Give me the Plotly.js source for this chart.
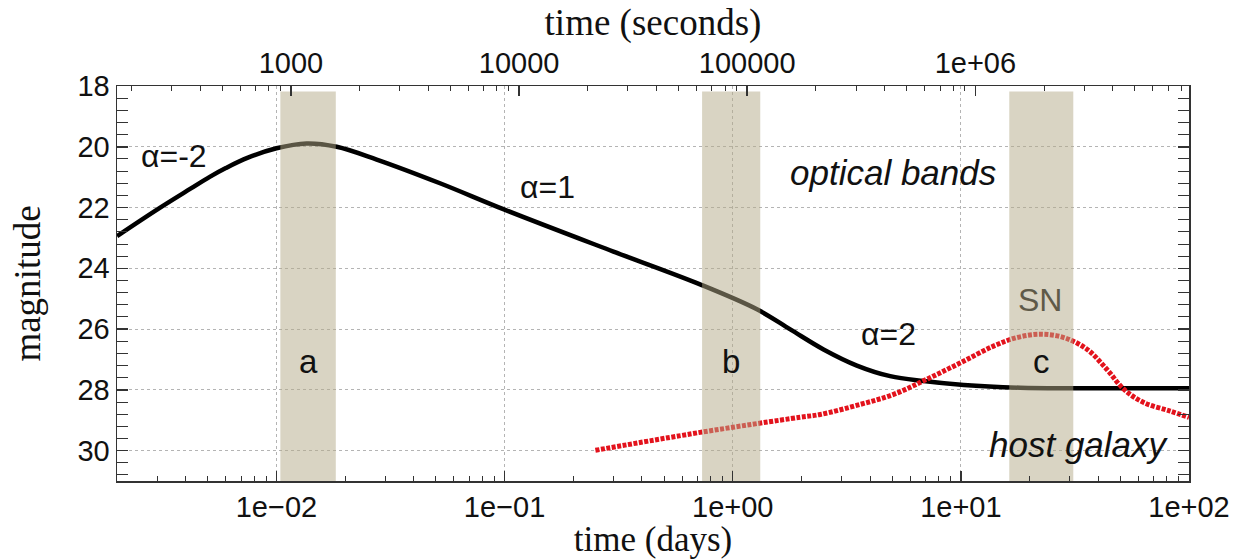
<!DOCTYPE html>
<html>
<head>
<meta charset="utf-8">
<script src="https://cdn.plot.ly/plotly-3.0.1.min.js"></script>
<style>
  html, body { margin: 0; padding: 0; background: #fff; }
  #chart { width: 1238px; height: 559px; }
</style>
</head>
<body>
<div id="chart"></div>
<script>
// Afterglow light curve (optical bands), time in days
const afterglowDays = [0.002, 0.00308, 0.0042, 0.0051, 0.006, 0.0075, 0.01, 0.01355, 0.01837, 0.0275, 0.0521, 0.1, 0.3, 0.719, 1.277, 1.787, 2.5, 3.5, 4.9, 6.86, 10.3, 18.2, 30, 100];
const afterglowMag  = [22.94, 22.01, 21.38, 20.99, 20.7, 20.36, 20.05, 19.89, 20.0, 20.42, 21.2, 22.07, 23.45, 24.53, 25.35, 26.01, 26.67, 27.2, 27.55, 27.71, 27.84, 27.93, 27.95, 27.95];

// Supernova + host galaxy contribution
const snDays = [0.25, 0.72, 1.98, 2.42, 3.62, 5.07, 7.1, 9.96, 13.9, 17.6, 22.3, 28.3, 35.8, 43.7, 51.8, 63.4, 82.8, 100];
const snMag  = [29.99, 29.4, 28.9, 28.81, 28.48, 28.15, 27.65, 27.11, 26.56, 26.28, 26.17, 26.28, 26.67, 27.33, 27.98, 28.42, 28.7, 28.91];

// Observation epochs (shaded windows)
const bandLabels = ['a', 'b', 'c'];
const bandStart  = [0.0104, 0.734, 16.3];
const bandEnd    = [0.0182, 1.32, 31.1];
const bandTop    = 18.18;
const bandBottom = 31;

// Axis ticks
const dayTicks     = [0.01, 0.1, 1, 10, 100];
const dayTickText  = ['1e\u221202', '1e\u221201', '1e+00', '1e+01', '1e+02'];
const secTicks     = [1000, 10000, 100000, 1000000];
const secTickText  = ['1000', '10000', '100000', '1e+06'];
const secondsPerDay = 86400;

const dayRange = [Math.log10(0.002), 2];
const secRange = dayRange.map(v => v + Math.log10(secondsPerDay));

const sans = 'Liberation Sans, Arial, Helvetica, sans-serif';
const serif = 'Liberation Serif, Times New Roman, serif';
const axisColor = '#333';

const traces = [
  {
    x: afterglowDays, y: afterglowMag, type: 'scatter', mode: 'lines',
    line: { color: '#000', width: 4.5, shape: 'spline', smoothing: 1 },
    hoverinfo: 'skip', showlegend: false
  },
  {
    x: snDays, y: snMag, type: 'scatter', mode: 'lines',
    line: { color: '#e3121c', width: 5, dash: '4px,1.5px', shape: 'spline', smoothing: 1 },
    hoverinfo: 'skip', showlegend: false
  },
  // top axis in seconds
  { x: [], y: [], xaxis: 'x2', yaxis: 'y', type: 'scatter', mode: 'lines', showlegend: false, hoverinfo: 'skip' }
];

// shaded epoch windows, drawn over the curves
bandLabels.forEach((lab, i) => {
  traces.push({
    x: [bandStart[i], bandEnd[i], bandEnd[i], bandStart[i], bandStart[i]],
    y: [bandTop, bandTop, bandBottom, bandBottom, bandTop],
    type: 'scatter', mode: 'lines', fill: 'toself',
    fillcolor: 'rgba(180,170,135,0.5)', line: { width: 0 },
    hoverinfo: 'skip', showlegend: false
  });
});

const tickFont = { family: sans, size: 29, color: '#111' };
const titleFont = { family: serif, size: 37, color: '#111' };
const gridColor = '#b4b4b4';

const layout = {
  width: 1238, height: 559,
  margin: { l: 117, r: 49, t: 86, b: 78 },
  paper_bgcolor: '#fff', plot_bgcolor: '#fff',
  showlegend: false,
  xaxis: {
    type: 'log', range: dayRange,
    tickmode: 'array', tickvals: dayTicks, ticktext: dayTickText,
    ticks: 'inside', ticklen: 10, tickwidth: 1.5, tickcolor: axisColor,
    minor: { dtick: 'D1', ticks: 'inside', ticklen: 5, tickwidth: 1, tickcolor: axisColor, showgrid: false },
    showline: true, linecolor: axisColor, linewidth: 1.5, mirror: false,
    showgrid: true, gridcolor: gridColor, griddash: 'dot', gridwidth: 1,
    zeroline: false, tickfont: tickFont,
    title: { text: 'time (days)', font: { family: serif, size: 35, color: '#111' }, standoff: 4 }
  },
  xaxis2: {
    type: 'log', range: secRange, overlaying: 'x', side: 'top', anchor: 'y',
    tickmode: 'array', tickvals: secTicks, ticktext: secTickText,
    ticks: 'inside', ticklen: 10, tickwidth: 1.5, tickcolor: axisColor,
    minor: { dtick: 'D1', ticks: 'inside', ticklen: 5, tickwidth: 1, tickcolor: axisColor, showgrid: false },
    showline: true, linecolor: axisColor, linewidth: 1.5,
    showgrid: false, zeroline: false, tickfont: tickFont,
    title: { text: 'time (seconds)', font: titleFont, standoff: 0 }
  },
  yaxis: {
    range: [31, 18], tick0: 18, dtick: 2,
    ticks: 'inside', ticklen: 11, tickwidth: 1.5, tickcolor: axisColor,
    minor: { dtick: 0.4, ticks: 'inside', ticklen: 6, tickwidth: 1, tickcolor: axisColor, showgrid: false },
    showline: true, linecolor: axisColor, linewidth: 1.5, mirror: 'allticks',
    showgrid: true, gridcolor: gridColor, griddash: 'dot', gridwidth: 1,
    zeroline: false, tickfont: tickFont,
    title: { text: 'magnitude', font: titleFont, standoff: 25 }
  },
  annotations: [
    { x: Math.log10(0.00355), y: 20.29, text: '\u03b1=-2', font: { family: sans, size: 32, color: '#111' }, showarrow: false },
    { x: -0.81, y: 21.31, text: '\u03b1=1', font: { family: sans, size: 32, color: '#111' }, showarrow: false },
    { x: 0.682, y: 26.17, text: '\u03b1=2', font: { family: sans, size: 32, color: '#111' }, showarrow: false },
    { x: 0.704, y: 20.85, text: '<i>optical bands</i>', font: { family: sans, size: 35, color: '#111' }, showarrow: false },
    { x: 1.519, y: 29.79, text: '<i>host galaxy</i>', font: { family: sans, size: 35, color: '#111' }, showarrow: false },
    { x: 1.348, y: 25.05, text: 'SN', font: { family: sans, size: 32, color: '#5f5a48' }, showarrow: false },
    ...bandLabels.map((lab, i) => ({
      x: (Math.log10(bandStart[i]) + Math.log10(bandEnd[i])) / 2, y: 27.08,
      text: lab, font: { family: sans, size: 33, color: '#111' }, showarrow: false
    }))
  ]
};

Plotly.newPlot('chart', traces, layout, { staticPlot: true, displayModeBar: false });
</script>
</body>
</html>
